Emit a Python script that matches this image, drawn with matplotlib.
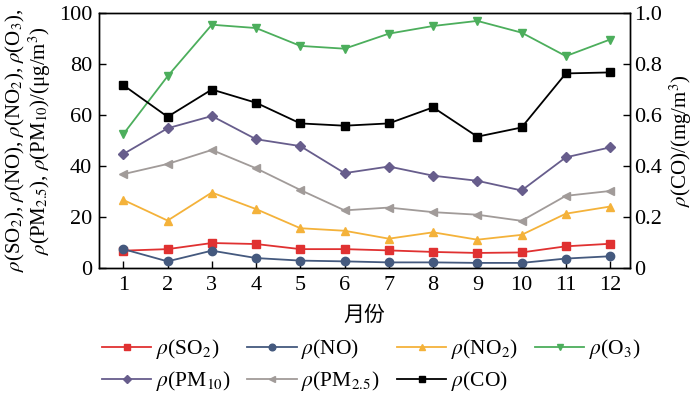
import matplotlib
matplotlib.use("Agg")
import matplotlib.pyplot as plt

plt.rcParams['font.family'] = ['Liberation Serif', 'Noto Sans CJK SC', 'DejaVu Sans']
plt.rcParams['mathtext.fontset'] = 'stix'

months = list(range(1, 13))
so2 = [6.8, 7.4, 9.8, 9.4, 7.4, 7.4, 6.9, 6.3, 5.9, 6.1, 8.5, 9.5]
no = [7.4, 2.6, 6.8, 3.9, 2.9, 2.6, 2.2, 2.2, 2.0, 2.0, 3.7, 4.6]
no2 = [26.7, 18.6, 29.6, 23.1, 15.6, 14.6, 11.5, 14.0, 11.1, 13.0, 21.3, 24.1]
o3 = [52.5, 75.2, 95.4, 94.1, 87.1, 86.0, 91.9, 94.9, 96.9, 92.3, 83.1, 89.6]
pm10 = [44.7, 54.8, 59.6, 50.5, 47.8, 37.2, 39.8, 36.2, 34.2, 30.4, 43.4, 47.3]
pm25 = [36.8, 40.8, 46.3, 39.1, 30.6, 22.6, 23.7, 21.9, 20.9, 18.5, 28.3, 30.2]
co = [0.717, 0.593, 0.700, 0.648, 0.567, 0.558, 0.567, 0.630, 0.515, 0.551, 0.763, 0.767]

labels = [r'$\rho$(SO$_2$)', r'$\rho$(NO)', r'$\rho$(NO$_2$)', r'$\rho$(O$_3$)',
          r'$\rho$(PM$_{10}$)', r'$\rho$(PM$_{2.5}$)', r'$\rho$(CO)']

fig = plt.figure(figsize=(7, 3.97), dpi=100)
ax = fig.add_axes([99 / 700, 1 - 268 / 397, 531 / 700, 255 / 397])
ax2 = ax.twinx()

ms = 6
series = [
    (so2, '#e03131', 's', labels[0]),
    (no, '#44597e', 'o', labels[1]),
    (no2, '#f4b23a', '^', labels[2]),
    (o3, '#4cae5c', 'v', labels[3]),
    (pm10, '#675d8c', 'D', labels[4]),
    (pm25, '#a19b99', '<', labels[5]),
]
handles = []
for data, c, m, lab in series:
    h, = ax.plot(months, data, color=c, marker=m, markersize=ms if m != 'D' else 5.5, lw=1.3, label=lab)
    handles.append(h)
h, = ax2.plot(months, co, color='black', marker='s', markersize=ms, lw=1.3, label=labels[6])
handles.append(h)

ax.set_xlim(0.45, 12.45)
ax.set_ylim(0, 100)
ax2.set_ylim(0, 1.0)
ax.set_xticks(months)
ax.set_yticks([0, 20, 40, 60, 80, 100])
ax2.set_yticks([0, 0.2, 0.4, 0.6, 0.8, 1.0])
ax2.set_yticklabels(['0', '0.2', '0.4', '0.6', '0.8', '1.0'])
ax.tick_params(labelsize=16, direction='in', length=5, width=1)
ax.tick_params(axis='x', pad=6)
ax.tick_params(axis='y', pad=5)
ax2.tick_params(labelsize=16, direction='in', length=5, width=1, pad=3)
for a in (ax, ax2):
    for s in a.spines.values():
        s.set_linewidth(1.0)

ax.set_xlabel('月份', fontsize=15, family=['Noto Sans CJK SC'], labelpad=6)
ax.set_ylabel(r'$\rho$(SO$_2$), $\rho$(NO), $\rho$(NO$_2$), $\rho$(O$_3$),' + '\n' +
              r'$\rho$(PM$_{2.5}$), $\rho$(PM$_{10}$)/(μg/m$^3$)', fontsize=15, linespacing=1.0, labelpad=4)
ax2.set_ylabel(r'$\rho$(CO)/(mg/m$^3$)', fontsize=15, labelpad=4)

order = [0, 4, 1, 5, 2, 6, 3]
fig.legend(handles=[handles[i] for i in order], labels=[labels[i] for i in order],
           loc='upper center', bbox_to_anchor=(0.53, 0.178),
           ncol=4, frameon=False, fontsize=15.5, handlelength=2.3, columnspacing=0.8,
           handletextpad=0.2, labelspacing=0.38, borderpad=0, markerscale=0.8)

fig.savefig('out.png', dpi=100)
